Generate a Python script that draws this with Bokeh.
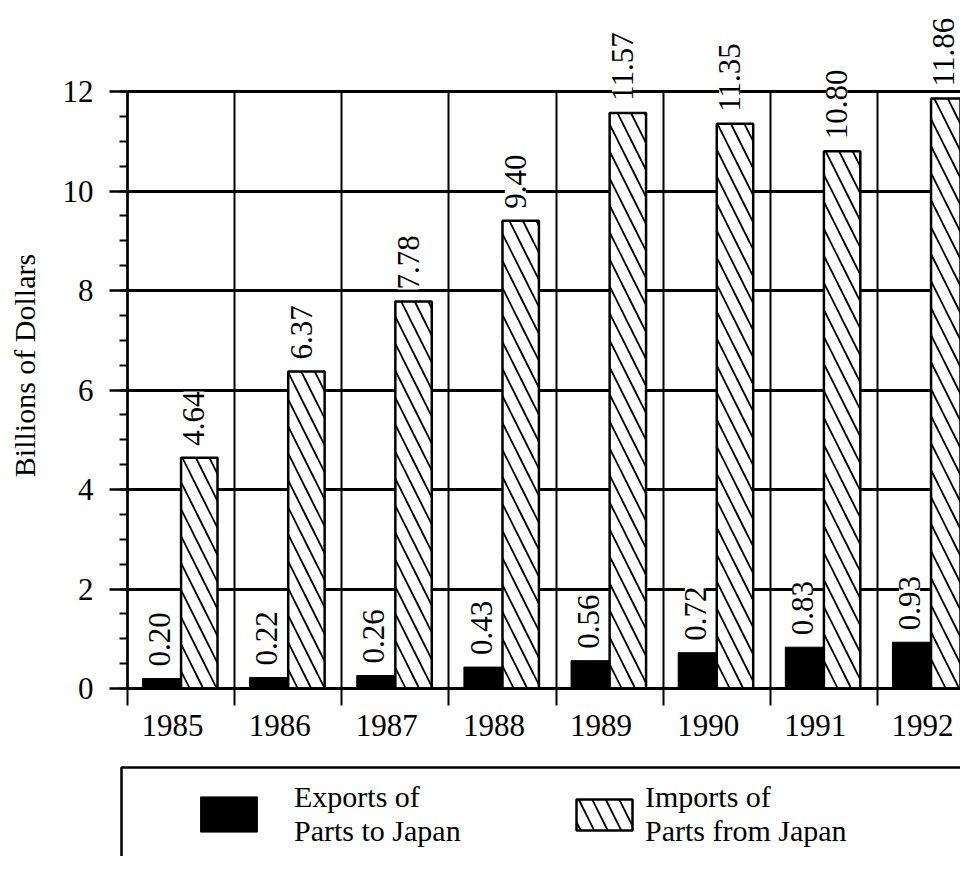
import math
from bokeh.plotting import figure
from bokeh.models import (ColumnDataSource, FixedTicker, BoxAnnotation, Legend,
                          LegendItem, LabelSet, Label)
from bokeh.embed import file_html
from bokeh.resources import INLINE
from bokeh.core.properties import value

# ---- data ----
years = ["1985", "1986", "1987", "1988", "1989", "1990", "1991", "1992"]
exports = [0.20, 0.22, 0.26, 0.43, 0.56, 0.72, 0.83, 0.93]
imports = [4.64, 6.37, 7.78, 9.40, 11.57, 11.35, 10.80, 11.86]
y_ticks = [0, 2, 4, 6, 8, 10, 12]
export_label = "Exports of\nParts to Japan"
import_label = "Imports of\nParts from Japan"
y_title = "Billions of Dollars"

FONT = "Liberation Serif"
n = len(years)
idx = list(range(n))
y_top = max(y_ticks)

src = ColumnDataSource(dict(
    x_exp=[i + 0.32 for i in idx],
    x_imp=[i + 0.67 for i in idx],
    x_exp_lbl=[i + 0.30 for i in idx],
    x_imp_lbl=[i + 0.62 for i in idx],
    exports=exports,
    imports=imports,
    exp_txt=[f"{v:.2f}" for v in exports],
    imp_txt=[f"{v:.2f}" for v in imports],
))

# pixel scale of the reference: 107.14 px per category, 49.75 px per unit
W, H = 960, 856
PX_X, PX_Y = 107.14, 49.75
x0 = -127 / PX_X
y1 = y_top + 91 / PX_Y
p = figure(width=W, height=H, x_range=(x0, x0 + W / PX_X),
           y_range=(y1 - H / PX_Y, y1),
           output_backend="svg", toolbar_location=None, min_border=0)
p.outline_line_color = None
p.background_fill_color = "white"
p.border_fill_color = "white"

# x axis: labels at category centres, tick marks at boundaries (minor ticks)
centers = [i + 0.42 for i in idx]
bounds_x = [float(i) for i in range(n + 1)]
xa = p.xaxis[0]
xa.fixed_location = 0
xa.ticker = FixedTicker(ticks=centers, minor_ticks=bounds_x)
xa.major_label_overrides = {c: y for c, y in zip(centers, years)}
xa.major_tick_out = 0
xa.major_tick_in = 0
xa.minor_tick_out = 17
xa.minor_tick_in = 0
xa.minor_tick_line_width = 2
xa.minor_tick_line_color = "black"
xa.axis_line_width = 2.5
xa.axis_line_color = "black"
xa.major_label_text_font = FONT
xa.major_label_text_font_size = "31px"
xa.major_label_text_color = "black"
xa.major_label_standoff = 9
xa.bounds = (0, n)

ya = p.yaxis[0]
ya.fixed_location = 0
minor_y = [t / 2 for t in range(0, 2 * y_top + 1)]
ya.ticker = FixedTicker(ticks=y_ticks, minor_ticks=minor_y)
ya.major_tick_out = 18
ya.major_tick_in = 0
ya.minor_tick_out = 8
ya.minor_tick_in = 0
ya.major_tick_line_width = 2.5
ya.minor_tick_line_width = 2
ya.major_tick_line_color = "black"
ya.minor_tick_line_color = "black"
ya.axis_line_width = 2.5
ya.axis_line_color = "black"
ya.major_label_text_font = FONT
ya.major_label_text_font_size = "31px"
ya.major_label_text_color = "black"
ya.major_label_standoff = 16
ya.bounds = (0, y_top)

# y axis title placed where the reference has it
p.add_layout(Label(x=x0 + 24 / PX_X, y=y1 - 365 / PX_Y, text=y_title,
                   angle=math.pi / 2, text_align="center",
                   text_baseline="middle", text_font=FONT,
                   text_font_size="30px", text_color="black"))

yg = p.ygrid[0]
yg.grid_line_color = "black"
yg.grid_line_width = 3
xg = p.xgrid[0]
xg.ticker = FixedTicker(ticks=bounds_x)
xg.grid_line_color = "black"
xg.grid_line_width = 2
if "cross_bounds" in xg.properties():
    xg.cross_bounds = (0, y_top)
    yg.cross_bounds = (0, n)

r_exp = p.vbar(x="x_exp", top="exports", bottom=0, width=0.36, source=src,
               fill_color="black", line_color="black", line_width=1)
r_imp = p.vbar(x="x_imp", top="imports", bottom=0, width=0.34, source=src,
               fill_color="white", line_color="black", line_width=2.5,
               hatch_pattern="\\", hatch_color="black", hatch_weight=1.8,
               hatch_scale=27)

lbl_kw = dict(angle=math.pi / 2, text_align="left", text_baseline="middle",
              y_offset=12, text_font=value(FONT), text_font_size="31px",
              text_color="black", background_fill_color="white", source=src)
for xcol, ycol, tcol in (("x_exp_lbl", "exports", "exp_txt"),
                         ("x_imp_lbl", "imports", "imp_txt")):
    ls = LabelSet(x=xcol, y=ycol, text=tcol, **lbl_kw)
    if "padding" in ls.properties():
        ls.padding = 4
    p.add_layout(ls)

# ---- legend ----
box = BoxAnnotation(left=121, right=3000, top=H - 767, bottom=-3000,
                    left_units="screen", right_units="screen",
                    top_units="screen", bottom_units="screen",
                    fill_color=None, fill_alpha=0, line_color="black",
                    line_alpha=1, line_width=2.5)
p.add_layout(box)

leg_kw = dict(orientation="horizontal", padding=0, margin=0,
              border_line_color=None, background_fill_alpha=0,
              label_text_font=FONT, label_text_font_size="30px",
              label_text_color="black", label_text_line_height=1.05)
leg1 = Legend(items=[LegendItem(label=export_label, renderers=[r_exp])],
              location=(193, 8), glyph_width=71, glyph_height=44,
              label_standoff=30, **leg_kw)
leg2 = Legend(items=[LegendItem(label=import_label, renderers=[r_imp])],
              location=(569, 8), glyph_width=70, glyph_height=39,
              label_standoff=6, **leg_kw)
p.add_layout(leg1)
p.add_layout(leg2)

open("out.html", "w").write(file_html(p, INLINE))
